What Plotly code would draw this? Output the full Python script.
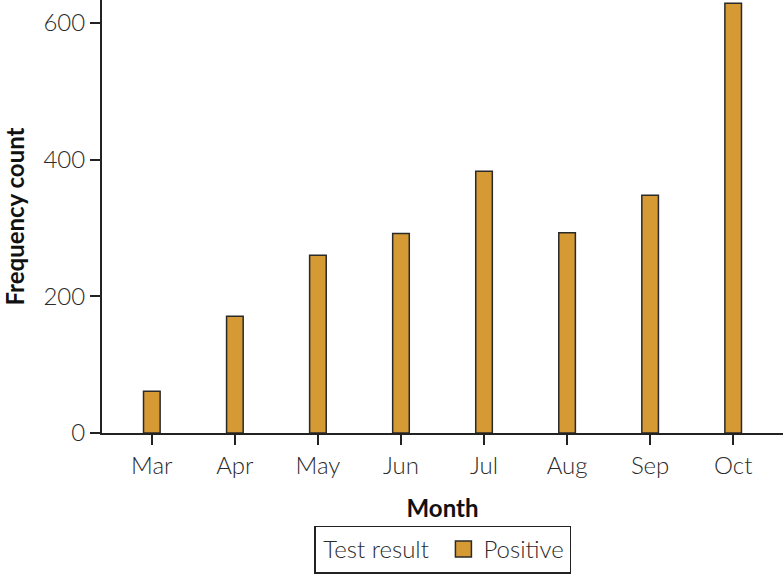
import plotly.graph_objects as go

months = ["Mar", "Apr", "May", "Jun", "Jul", "Aug", "Sep", "Oct"]
positive = [61, 171, 260, 292, 383, 293, 348, 629]
y_ticks = [0, 200, 400, 600]

FONT = "Lato"
TXT = "#2b2b2b"
BAR = "#D69A34"

fig = go.Figure()
fig.add_trace(go.Bar(
    x=months, y=positive, name="Positive",
    marker=dict(color=BAR, line=dict(color="#2a2a2a", width=1.5)),
    width=0.2, showlegend=False,
))
# legend-only entry with a larger square key
fig.add_trace(go.Scatter(
    x=[None], y=[None], mode="markers", name="Positive",
    marker=dict(symbol="square", size=17, color=BAR, line=dict(color="#2a2a2a", width=1.5)),
    showlegend=True,
))

fig.update_layout(
    width=783, height=575,
    margin=dict(l=102, r=0, t=0, b=142, autoexpand=False),
    paper_bgcolor="white", plot_bgcolor="white",
    font=dict(family=FONT, size=24, color=TXT, weight=300),
    xaxis=dict(
        range=[-0.6, 7.6], showline=True, linecolor="#222", linewidth=2,
        ticks="outside", ticklen=10, tickwidth=2, tickcolor="#222",
        showgrid=False, zeroline=False, automargin=False,
        tickfont=dict(family=FONT, size=24, color=TXT, weight=300),
        title=dict(text="Month", font=dict(family=FONT, size=24, color="#111", weight=700), standoff=22),
    ),
    yaxis=dict(
        range=[0, 633.7], showline=True, linecolor="#222", linewidth=2,
        ticks="outside", ticklen=10, tickwidth=2, tickcolor="#222",
        tickvals=y_ticks, showgrid=False, zeroline=False, automargin=False,
        tickfont=dict(family=FONT, size=24, color=TXT, weight=300),
        title=dict(text="Frequency count", font=dict(family=FONT, size=24, color="#111", weight=700), standoff=16),
    ),
    legend=dict(
        orientation="h", x=0.5, xanchor="center", y=-0.3245, yanchor="bottom",
        title=dict(text="\u00a0Test result ", font=dict(family=FONT, size=24, color=TXT, weight=300)),
        font=dict(family=FONT, size=24, color=TXT, weight=300),
        bordercolor="#222", borderwidth=1.5, bgcolor="white",
    ),
)

fig.write_html("out.html", config={"displayModeBar": False},
               post_script="document.body.style.margin='0';")
